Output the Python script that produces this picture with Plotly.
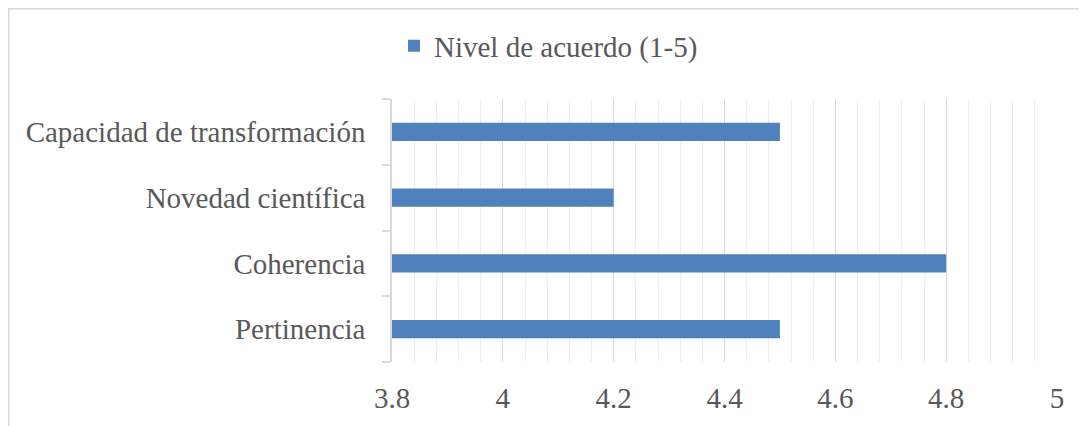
import plotly.graph_objects as go

categories = ["Pertinencia", "Coherencia", "Novedad científica", "Capacidad de transformación"]
values = [4.5, 4.8, 4.2, 4.5]
series_name = "Nivel de acuerdo (1-5)"
x_ticks = [3.8, 4.0, 4.2, 4.4, 4.6, 4.8, 5.0]
x_tick_labels = ["3.8", "4", "4.2", "4.4", "4.6", "4.8", "5"]

# page body has an 8px margin, so figure coords = screen coords - 8
W, H = 1079, 418
L, R, T, B = 384, 30, 91, 64
pw, ph = W - L - R, H - T - B

def px_x(p):
    return (p - L) / pw

def px_y(p):
    return (H - B - p) / ph

font_family = "Liberation Serif, Times New Roman, serif"
grey = "#595959"

fig = go.Figure()
fig.add_trace(go.Bar(
    y=categories, x=values, orientation="h", name=series_name,
    marker=dict(color="#4f81bd", line=dict(width=0)),
    showlegend=True,
))

fig.update_layout(
    width=W, height=H,
    margin=dict(l=L, r=R, t=T, b=B),
    paper_bgcolor="white", plot_bgcolor="white",
    font=dict(family=font_family, size=29, color=grey),
    bargap=0.72,
    showlegend=True,
    legend=dict(
        x=px_x(386), xanchor="left", y=px_y(38), yanchor="middle",
        orientation="h", font=dict(size=29, color=grey),
        itemwidth=30,
    ),
    xaxis=dict(
        range=[3.8, 5.0], tickvals=x_ticks, ticktext=x_tick_labels,
        showgrid=True, gridcolor="#d9d9d9", gridwidth=1,
        minor=dict(dtick=0.04, tick0=3.8, showgrid=True, gridcolor="#efefef", gridwidth=1),
        zeroline=False, showline=False, ticks="",
        tickfont=dict(size=29, color=grey), ticklabelstandoff=16,
    ),
    yaxis=dict(
        categoryorder="array", categoryarray=categories,
        showgrid=False, showline=True, linecolor="#d9d9d9", linewidth=1.5,
        ticks="outside", ticklen=8, tickcolor="#d9d9d9", tickwidth=1.5,
        tickson="boundaries", zeroline=False,
        tickfont=dict(size=29, color=grey), ticklabelstandoff=19,
    ),
    shapes=[dict(
        type="rect", xref="paper", yref="paper",
        x0=px_x(0.75), x1=px_x(1078), y0=px_y(0.75), y1=px_y(440),
        line=dict(color="#d9d9d9", width=1.5), fillcolor="rgba(0,0,0,0)", layer="below",
    )],
)

fig.write_html("out.html")
